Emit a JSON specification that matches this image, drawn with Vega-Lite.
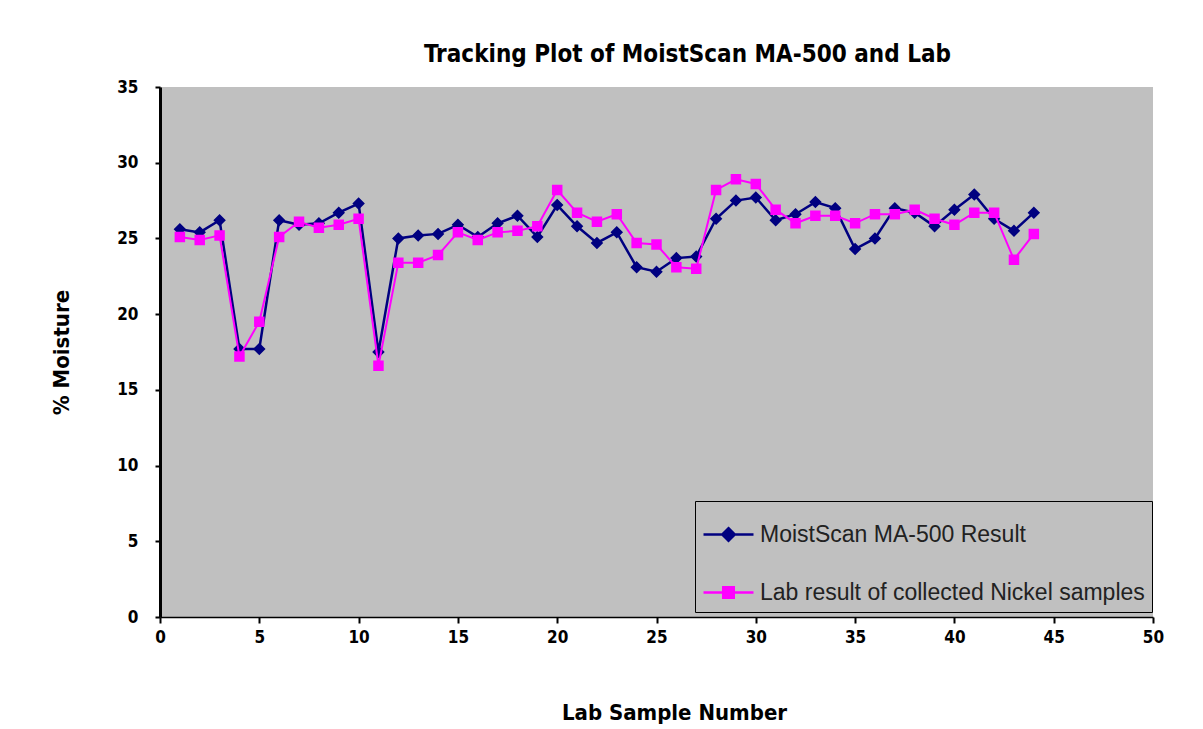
{
  "$schema": "https://vega.github.io/schema/vega-lite/v6.json",
  "width": 993,
  "height": 530,
  "autosize": {"type": "none"},
  "padding": {"left": 160, "top": 87, "right": 50, "bottom": 112},
  "background": "white",
  "config": {
    "view": {"fill": "#C0C0C0", "stroke": null},
    "font": "Liberation Sans Narrow, DejaVu Sans Condensed, Liberation Sans"
  },
  "title": {
    "text": "Tracking Plot of MoistScan MA-500 and Lab",
    "font": "Liberation Sans Narrow, DejaVu Sans Condensed, Liberation Sans",
    "fontSize": 24,
    "fontWeight": "bold",
    "color": "black",
    "dx": 31,
    "offset": 11
  },
  "data": {
    "values": [
      {"n": 1, "MoistScan MA-500 Result": 25.6, "Lab result of collected Nickel samples": 25.1},
      {"n": 2, "MoistScan MA-500 Result": 25.4, "Lab result of collected Nickel samples": 24.9},
      {"n": 3, "MoistScan MA-500 Result": 26.2, "Lab result of collected Nickel samples": 25.2},
      {"n": 4, "MoistScan MA-500 Result": 17.7, "Lab result of collected Nickel samples": 17.2},
      {"n": 5, "MoistScan MA-500 Result": 17.7, "Lab result of collected Nickel samples": 19.5},
      {"n": 6, "MoistScan MA-500 Result": 26.2, "Lab result of collected Nickel samples": 25.1},
      {"n": 7, "MoistScan MA-500 Result": 25.9, "Lab result of collected Nickel samples": 26.1},
      {"n": 8, "MoistScan MA-500 Result": 26.0, "Lab result of collected Nickel samples": 25.7},
      {"n": 9, "MoistScan MA-500 Result": 26.7, "Lab result of collected Nickel samples": 25.9},
      {"n": 10, "MoistScan MA-500 Result": 27.3, "Lab result of collected Nickel samples": 26.3},
      {"n": 11, "MoistScan MA-500 Result": 17.5, "Lab result of collected Nickel samples": 16.6},
      {"n": 12, "MoistScan MA-500 Result": 25.0, "Lab result of collected Nickel samples": 23.4},
      {"n": 13, "MoistScan MA-500 Result": 25.2, "Lab result of collected Nickel samples": 23.4},
      {"n": 14, "MoistScan MA-500 Result": 25.3, "Lab result of collected Nickel samples": 23.9},
      {"n": 15, "MoistScan MA-500 Result": 25.9, "Lab result of collected Nickel samples": 25.4},
      {"n": 16, "MoistScan MA-500 Result": 25.1, "Lab result of collected Nickel samples": 24.9},
      {"n": 17, "MoistScan MA-500 Result": 26.0, "Lab result of collected Nickel samples": 25.4},
      {"n": 18, "MoistScan MA-500 Result": 26.5, "Lab result of collected Nickel samples": 25.5},
      {"n": 19, "MoistScan MA-500 Result": 25.1, "Lab result of collected Nickel samples": 25.8},
      {"n": 20, "MoistScan MA-500 Result": 27.2, "Lab result of collected Nickel samples": 28.2},
      {"n": 21, "MoistScan MA-500 Result": 25.8, "Lab result of collected Nickel samples": 26.7},
      {"n": 22, "MoistScan MA-500 Result": 24.7, "Lab result of collected Nickel samples": 26.1},
      {"n": 23, "MoistScan MA-500 Result": 25.4, "Lab result of collected Nickel samples": 26.6},
      {"n": 24, "MoistScan MA-500 Result": 23.1, "Lab result of collected Nickel samples": 24.7},
      {"n": 25, "MoistScan MA-500 Result": 22.8, "Lab result of collected Nickel samples": 24.6},
      {"n": 26, "MoistScan MA-500 Result": 23.7, "Lab result of collected Nickel samples": 23.1},
      {"n": 27, "MoistScan MA-500 Result": 23.8, "Lab result of collected Nickel samples": 23.0},
      {"n": 28, "MoistScan MA-500 Result": 26.3, "Lab result of collected Nickel samples": 28.2},
      {"n": 29, "MoistScan MA-500 Result": 27.5, "Lab result of collected Nickel samples": 28.9},
      {"n": 30, "MoistScan MA-500 Result": 27.7, "Lab result of collected Nickel samples": 28.6},
      {"n": 31, "MoistScan MA-500 Result": 26.2, "Lab result of collected Nickel samples": 26.9},
      {"n": 32, "MoistScan MA-500 Result": 26.6, "Lab result of collected Nickel samples": 26.0},
      {"n": 33, "MoistScan MA-500 Result": 27.4, "Lab result of collected Nickel samples": 26.5},
      {"n": 34, "MoistScan MA-500 Result": 27.0, "Lab result of collected Nickel samples": 26.5},
      {"n": 35, "MoistScan MA-500 Result": 24.3, "Lab result of collected Nickel samples": 26.0},
      {"n": 36, "MoistScan MA-500 Result": 25.0, "Lab result of collected Nickel samples": 26.6},
      {"n": 37, "MoistScan MA-500 Result": 27.0, "Lab result of collected Nickel samples": 26.6},
      {"n": 38, "MoistScan MA-500 Result": 26.7, "Lab result of collected Nickel samples": 26.9},
      {"n": 39, "MoistScan MA-500 Result": 25.8, "Lab result of collected Nickel samples": 26.3},
      {"n": 40, "MoistScan MA-500 Result": 26.9, "Lab result of collected Nickel samples": 25.9},
      {"n": 41, "MoistScan MA-500 Result": 27.9, "Lab result of collected Nickel samples": 26.7},
      {"n": 42, "MoistScan MA-500 Result": 26.3, "Lab result of collected Nickel samples": 26.7},
      {"n": 43, "MoistScan MA-500 Result": 25.5, "Lab result of collected Nickel samples": 23.6},
      {"n": 44, "MoistScan MA-500 Result": 26.7, "Lab result of collected Nickel samples": 25.3}
    ]
  },
  "transform": [
    {"fold": ["MoistScan MA-500 Result", "Lab result of collected Nickel samples"], "as": ["series", "value"]}
  ],
  "encoding": {
    "x": {
      "field": "n",
      "type": "quantitative",
      "scale": {"domain": [0, 50], "nice": false},
      "axis": {
        "title": "Lab Sample Number",
        "values": [0, 5, 10, 15, 20, 25, 30, 35, 40, 45, 50],
        "grid": false,
        "domainColor": "black",
        "domainWidth": 1.5,
        "tickColor": "black",
        "tickWidth": 2,
        "tickSize": 6,
        "labelFontSize": 17,
        "labelFontWeight": "bold",
        "labelColor": "black",
        "labelPadding": 6,
        "labelFlush": false,
        "titleFontSize": 22,
        "titleFontWeight": "bold",
        "titleColor": "black",
        "titlePadding": 57,
        "titleX": 514
      }
    },
    "y": {
      "field": "value",
      "type": "quantitative",
      "scale": {"domain": [0, 35], "nice": false},
      "axis": {
        "title": "% Moisture",
        "values": [0, 5, 10, 15, 20, 25, 30, 35],
        "grid": false,
        "domainColor": "black",
        "domainWidth": 3,
        "tickColor": "black",
        "tickWidth": 2,
        "tickSize": 5,
        "labelFontSize": 17,
        "labelFontWeight": "bold",
        "labelColor": "black",
        "labelPadding": 17,
        "labelFlush": false,
        "titleFontSize": 22,
        "titleFontWeight": "bold",
        "titleColor": "black",
        "titlePadding": 43
      }
    },
    "color": {
      "field": "series",
      "type": "nominal",
      "scale": {
        "domain": ["MoistScan MA-500 Result", "Lab result of collected Nickel samples"],
        "range": ["#000080", "#FF00FF"]
      },
      "legend": {
        "title": null,
        "orient": "none",
        "legendX": 535,
        "legendY": 414,
        "fillColor": "#C0C0C0",
        "strokeColor": "black",
        "padding": 7,
        "rowPadding": 19,
        "symbolSize": 2500,
        "labelOffset": 5,
        "labelFont": "Liberation Sans",
        "labelFontSize": 23,
        "labelColor": "#222222",
        "labelLimit": 700,
        "symbolStrokeWidth": 2.5,
        "encode": {
          "symbols": {
            "update": {
              "stroke": {"scale": "color", "field": "value"},
              "strokeWidth": {"value": 2.5},
              "opacity": {"value": 1}
            }
          }
        }
      }
    }
  },
  "layer": [
    {
      "transform": [{"filter": "datum.series === 'MoistScan MA-500 Result'"}],
      "mark": {"type": "line", "strokeWidth": 2.5}
    },
    {
      "transform": [{"filter": "datum.series === 'MoistScan MA-500 Result'"}],
      "mark": {"type": "point", "filled": true, "size": 2500, "strokeWidth": 0, "opacity": 1},
      "encoding": {
        "shape": {
          "field": "series",
          "type": "nominal",
          "scale": {
            "domain": ["MoistScan MA-500 Result", "Lab result of collected Nickel samples"],
            "range": ["M-1,0H1M0,-0.25L0.25,0L0,0.25L-0.25,0Z", "M-1,0H1M-0.21,-0.21H0.21V0.21H-0.21Z"]
          }
        }
      }
    },
    {
      "transform": [{"filter": "datum.series === 'Lab result of collected Nickel samples'"}],
      "mark": {"type": "line", "strokeWidth": 2}
    },
    {
      "transform": [{"filter": "datum.series === 'Lab result of collected Nickel samples'"}],
      "mark": {"type": "point", "filled": true, "size": 2500, "strokeWidth": 0, "opacity": 1},
      "encoding": {
        "shape": {
          "field": "series",
          "type": "nominal",
          "scale": {
            "domain": ["MoistScan MA-500 Result", "Lab result of collected Nickel samples"],
            "range": ["M-1,0H1M0,-0.25L0.25,0L0,0.25L-0.25,0Z", "M-1,0H1M-0.21,-0.21H0.21V0.21H-0.21Z"]
          }
        }
      }
    }
  ]
}
